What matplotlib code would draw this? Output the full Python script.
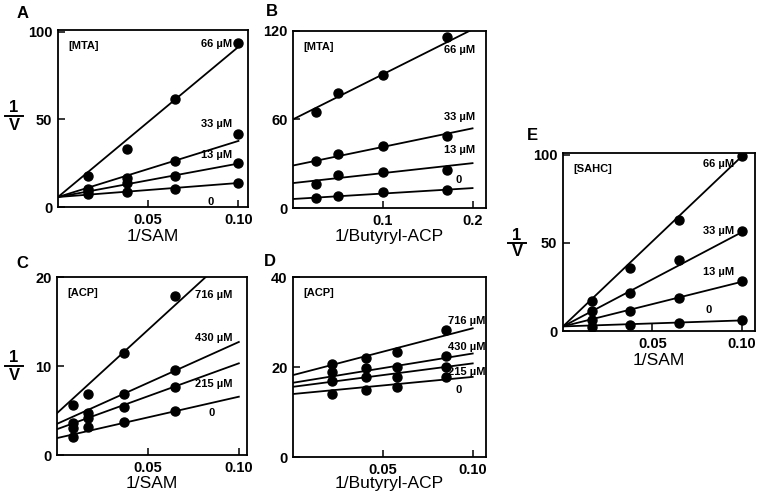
import matplotlib
matplotlib.use('Agg')
import matplotlib.pyplot as plt
import numpy as np
from matplotlib.lines import Line2D

plt.rcParams['font.family'] = ['Liberation Sans', 'DejaVu Sans']

# ---------------- data ----------------
# Panel A: 1/V vs 1/SAM, inhibitor MTA
A_x = [0.0165, 0.038, 0.065, 0.100]
A_labels = ['66 µM', '33 µM', '13 µM', '0']
A_y66 = [17.9, 33.0, 61.9, 93.3]
A_y33 = [10.5, 16.5, 26.3, 41.5]
A_y13 = [9.0, 13.5, 17.5, 25.1]
A_y0 = [7.3, 8.6, 10.5, 13.9]
A_icpt = [5.7, 5.7, 5.7, 5.7]
A_slope = [857, 320, 191, 80]

# Panel B: 1/V vs 1/Butyryl-ACP, inhibitor MTA
B_x = [0.026, 0.05, 0.10, 0.172]
B_labels = ['66 µM', '33 µM', '13 µM', '0']
B_y66 = [65.3, 78.2, 90.0, 116.0]
B_y33 = [32.2, 36.7, 41.7, 49.1]
B_y13 = [16.4, 22.5, 24.3, 25.5]
B_y0 = [6.8, 8.3, 10.6, 12.4]
B_icpt = [60.1, 28.8, 16.9, 6.1]
B_slope = [305, 126, 67.5, 37]

# Panel C: 1/V vs 1/SAM, inhibitor ACP
C_x = [0.0087, 0.0173, 0.037, 0.065]
C_labels = ['716 µM', '430 µM', '215 µM', '0']
C_y716 = [5.6, 6.8, 11.5, 17.9]
C_y430 = [3.6, 4.75, 6.8, 9.6]
C_y215 = [3.0, 4.2, 5.4, 7.6]
C_y0 = [2.0, 3.1, 3.75, 4.9]
C_icpt = [4.7, 3.5, 2.9, 1.9]
C_slope = [187, 92, 74, 46.5]

# Panel D: 1/V vs 1/Butyryl-ACP, inhibitor ACP
D_x = [0.0217, 0.0407, 0.0578, 0.085]
D_labels = ['716 µM', '430 µM', '215 µM', '0']
D_y716 = [20.6, 21.9, 23.4, 28.3]
D_y430 = [19.0, 19.7, 19.9, 22.5]
D_y215 = [16.9, 17.8, 17.8, 19.9]
D_y0 = [14.1, 14.9, 15.5, 17.7]
D_icpt = [18.2, 16.5, 15.6, 14.0]
D_slope = [104, 65, 52, 38]

# Panel E: 1/V vs 1/SAM, inhibitor SAHC
E_x = [0.016, 0.0375, 0.065, 0.100]
E_labels = ['66 µM', '33 µM', '13 µM', '0']
E_y66 = [17.0, 35.5, 62.8, 99.4]
E_y33 = [11.6, 21.6, 40.3, 56.6]
E_y13 = [6.4, 11.2, 18.5, 28.1]
E_y0 = [2.2, 3.2, 4.7, 6.0]
E_icpt = [2.6, 2.6, 2.6, 2.6]
E_slope = [964, 534, 253, 34]

W, H = 764, 498
fig = plt.figure(figsize=(W / 100, H / 100), dpi=100)


def rect(l, t, r, b):
    return [l / W, 1 - b / H, (r - l) / W, (b - t) / H]


def panel(box, x, ys, icpt, slope, xend, xlim, ylim, xticks, xtl, yticks, ytl,
          xlabel, label_top, inhib, labels, label_pos, label_ha):
    ax = fig.add_axes(rect(*box))
    for y in ys:
        ax.plot(x, y, 'o', color='black', ms=6.5, zorder=3)
    for a, s in zip(icpt, slope):
        xx = np.array([xlim[0], xend])
        ax.plot(xx, a + s * xx, color='black', lw=1.3, zorder=2)
    ax.set_xlim(*xlim)
    ax.set_ylim(*ylim)
    ax.set_xticks(xticks)
    ax.set_xticklabels(xtl)
    ax.set_yticks(yticks)
    ax.set_yticklabels(ytl)
    ax.tick_params(direction='in', length=5, width=1.1, labelsize=10.5, pad=4)
    for t in ax.get_xticklabels() + ax.get_yticklabels():
        t.set_fontweight('bold')
    for sp in ax.spines.values():
        sp.set_linewidth(1.3)
    ax.set_xlabel(xlabel, fontsize=12.5)
    # place x label top edge at given pixel row
    ax.xaxis.set_label_coords(0.5, -(label_top - box[3]) / (box[3] - box[1]))
    ax.text(0.055, 0.91, inhib, transform=ax.transAxes, fontsize=8,
            fontweight='bold', ha='left', va='center')
    for lab, (px, py), ha in zip(labels, label_pos, label_ha):
        ax.text(px, py, lab, fontsize=8, fontweight='bold', ha=ha, va='center')
    return ax


def one_over_v(xc, yc):
    fig.text(xc / W, 1 - (yc - 8) / H, '1', fontsize=12, fontweight='bold',
             ha='center', va='center')
    fig.text(xc / W, 1 - (yc + 9) / H, 'V', fontsize=12, fontweight='bold',
             ha='center', va='center')
    fig.add_artist(Line2D([(xc - 9) / W, (xc + 9) / W], [1 - yc / H, 1 - yc / H],
                          color='black', lw=1.4, transform=fig.transFigure))


panel((58, 30, 248, 207), A_x, [A_y66, A_y33, A_y13, A_y0], A_icpt, A_slope, 0.100,
      (0, 0.1053), (0, 101), [0.05, 0.10], ['0.05', '0.10'], [0, 50, 100], ['0', '50', '100'],
      '1/SAM', 229, '[MTA]', A_labels,
      [(0.0965, 93), (0.0965, 47.5), (0.0965, 29.5), (0.0847, 3.0)],
      ['right', 'right', 'right', 'center'])

panel((293, 31, 486, 208), B_x, [B_y66, B_y33, B_y13, B_y0], B_icpt, B_slope, 0.200,
      (0, 0.215), (0, 120), [0.1, 0.2], ['0.1', '0.2'], [0, 60, 120], ['0', '60', '120'],
      '1/Butyryl-ACP', 229, '[MTA]', B_labels,
      [(0.203, 107), (0.203, 61.5), (0.203, 39), (0.185, 19)],
      ['right', 'right', 'right', 'center'])

panel((57, 277, 247, 455), C_x, [C_y716, C_y430, C_y215, C_y0], C_icpt, C_slope, 0.100,
      (0, 0.1045), (0, 20), [0.05, 0.10], ['0.05', '0.10'], [0, 10, 20], ['0', '10', '20'],
      '1/SAM', 476, '[ACP]', C_labels,
      [(0.0964, 18.0), (0.0964, 13.1), (0.0964, 8.0), (0.085, 4.75)],
      ['right', 'right', 'right', 'center'])

panel((293, 277, 486, 457), D_x, [D_y716, D_y430, D_y215, D_y0], D_icpt, D_slope, 0.100,
      (0, 0.1074), (0, 40), [0.05, 0.10], ['0.05', '0.10'], [0, 20, 40], ['0', '20', '40'],
      '1/Butyryl-ACP', 476, '[ACP]', D_labels,
      [(0.1072, 30.3), (0.1072, 24.4), (0.1072, 18.8), (0.092, 14.9)],
      ['right', 'right', 'right', 'center'])

panel((563, 153, 755, 331), E_x, [E_y66, E_y33, E_y13, E_y0], E_icpt, E_slope, 0.100,
      (0, 0.1075), (0, 101), [0.05, 0.10], ['0.05', '0.10'], [0, 50, 100], ['0', '50', '100'],
      '1/SAM', 353, '[SAHC]', E_labels,
      [(0.096, 95), (0.096, 57), (0.096, 33.4), (0.0817, 11.9)],
      ['right', 'right', 'right', 'center'])

one_over_v(14, 116)
one_over_v(14, 366)
one_over_v(517, 243)

for letter, (lx, ly) in zip(['A', 'B', 'C', 'D', 'E'],
                            [(23, 13), (272, 12), (22, 263), (270, 262), (532, 135)]):
    fig.text(lx / W, 1 - ly / H, letter, fontsize=12, fontweight='bold',
             ha='center', va='center')

fig.savefig('out.png', dpi=100)
